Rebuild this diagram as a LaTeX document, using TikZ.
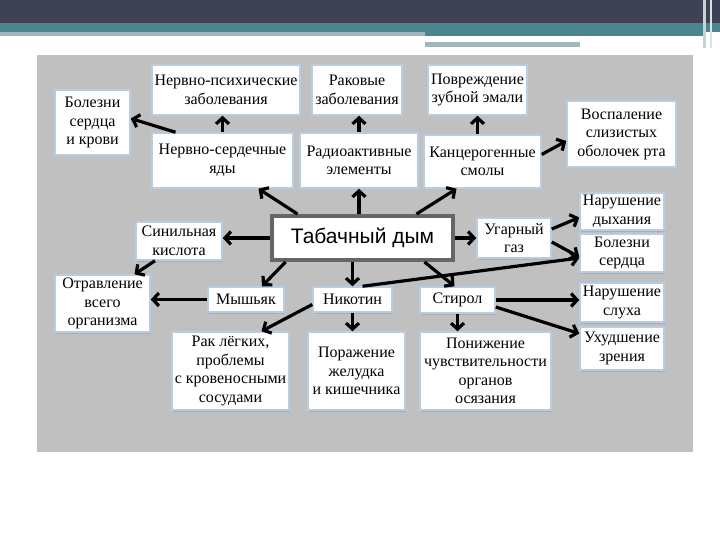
\documentclass[tikz,border=0pt]{standalone}
\usepackage{fontspec}
\setmainfont{Liberation Serif}
\newfontfamily\dymfont{Liberation Sans}
\usetikzlibrary{arrows.meta,shadows}

\definecolor{slidedark}{HTML}{3E4253}
\definecolor{slideteal}{HTML}{4A868B}
\definecolor{slidestripe}{HTML}{A3B6BE}
\definecolor{panelgray}{HTML}{C0C0C0}
\definecolor{boxedge}{HTML}{B9CDE2}

\tikzset{
  box/.style={draw=boxedge, line width=1.5pt, fill=white, align=center, inner sep=1pt,
    font=\fontsize{16}{18.5}\selectfont,
    drop shadow={shadow xshift=1pt, shadow yshift=-1.5pt, fill=gray!70, opacity=.7}},
  arr/.style={-{Straight Barb[length=6pt,width=13pt]}, line width=3.2pt},
}

\begin{document}
\begin{tikzpicture}[x=1pt, y=-1pt]
  \useasboundingbox (0,0) rectangle (720,540);
  % slide header
  \fill[slidedark] (0,0) rectangle (720,23);
  \fill[slideteal] (0,23) rectangle (720,32);
  \fill[slidestripe] (0,32) rectangle (425,36);
  \fill[slideteal] (425,32) rectangle (703,36);
  \fill[slidestripe] (425,42) rectangle (580,47);
  \fill[slidestripe!60] (703,0) rectangle (706,48);
  \fill[slidestripe!40] (710,0) rectangle (712,48);
  \fill[panelgray] (37,55) rectangle (693,452);

  % top row
  \node[box, minimum width=75pt, minimum height=65pt] (bolkrovi) at (92.5,122.5) {Болезни\\сердца\\и крови};
  \node[box, minimum width=148pt, minimum height=50pt] (nervpsy) at (226,90) {Нервно-психические\\заболевания};
  \node[box, minimum width=90pt, minimum height=50pt] (rak) at (357,90) {Раковые\\заболевания};
  \node[box, minimum width=99pt, minimum height=50pt] (zub) at (477.5,90) {Повреждение\\зубной эмали};
  \node[box, minimum width=109pt, minimum height=66pt] (vospal) at (621.5,134) {Воспаление\\слизистых\\оболочек рта};
  \node[box, minimum width=141pt, minimum height=55pt] (nervser) at (222.5,160.5) {Нервно-сердечные\\яды};
  \node[box, minimum width=118pt, minimum height=55pt] (radio) at (359,160.5) {Радиоактивные\\элементы};
  \node[box, minimum width=117pt, minimum height=53pt] (kanc) at (482.5,161.5) {Канцерогенные\\смолы};

  % middle row
  \node[box, minimum width=86pt, minimum height=38pt] (sinil) at (179,241) {Синильная\\кислота};
  \node[draw=gray!80!black, line width=4pt, fill=white, minimum width=181pt, minimum height=44pt,
    font=\dymfont\fontsize{21}{24}\selectfont] (tabak) at (362.5,238) {Табачный дым};
  \node[box, minimum width=74pt, minimum height=40pt] (ugar) at (514,238) {Угарный\\газ};
  \node[box, minimum width=84pt, minimum height=37pt] (dyhan) at (622,211.5) {Нарушение\\дыхания};
  \node[box, minimum width=84pt, minimum height=38pt] (bolserd) at (622,253) {Болезни\\сердца};

  % lower rows
  \node[box, minimum width=95pt, minimum height=57pt] (otrav) at (102.5,303.5) {Отравление\\всего\\организма};
  \node[box, minimum width=76pt, minimum height=25pt] (mysh) at (246,299.5) {Мышьяк};
  \node[box, minimum width=79pt, minimum height=25pt] (nikot) at (352.5,299.5) {Никотин};
  \node[box, minimum width=75pt, minimum height=26pt] (stirol) at (457.5,300) {Стирол};
  \node[box, minimum width=84pt, minimum height=39pt] (sluh) at (622,302.5) {Нарушение\\слуха};
  \node[box, minimum width=84pt, minimum height=43pt] (zren) at (622,348.5) {Ухудшение\\зрения};
  \node[box, minimum width=117pt, minimum height=78pt] (raklegk) at (230.5,371) {Рак лёгких,\\проблемы\\с кровеносными\\сосудами};
  \node[box, minimum width=97pt, minimum height=78pt] (zhel) at (356.5,371) {Поражение\\желудка\\и кишечника};
  \node[box, minimum width=131pt, minimum height=78pt] (osyaz) at (485.5,371) {Понижение\\чувствительности\\органов\\осязания};

  % from the smoke
  \draw[arr] ([xshift=-65pt]tabak.north) -- ([xshift=36pt]nervser.south);
  \draw[arr] (radio.south |- tabak.north) -- (radio.south);
  \draw[arr] ([xshift=54pt]tabak.north) -- ([xshift=-26pt]kanc.south);
  \draw[arr] (tabak.west) -- (sinil.east |- tabak.west);
  \draw[arr] (tabak.east) -- (ugar.west);
  \draw[arr] ([xshift=-77pt]tabak.south) -- ([xshift=16pt]mysh.north);
  \draw[arr] (nikot.north |- tabak.south) -- (nikot.north);
  \draw[arr] ([xshift=62pt]tabak.south) -- ([xshift=-3pt]stirol.north);

  % effects
  \draw[arr] ([xshift=-47pt]nervser.north) -- ([yshift=4pt]bolkrovi.east);
  \draw[arr] (nervser.north) -- (nervser.north |- nervpsy.south);
  \draw[arr] (radio.north) -- (radio.north |- rak.south);
  \draw[arr] (zub.south |- kanc.north) -- (zub.south);
  \draw[arr] ([yshift=7pt]kanc.east) -- ([yshift=-7pt]vospal.west);
  \draw[arr] ([yshift=9pt]ugar.east) -- ([yshift=-6pt]dyhan.west);
  \draw[arr] ([yshift=-4pt]ugar.east) -- ([yshift=-4pt]bolserd.west);
  \draw[arr] ([xshift=10pt]nikot.north) -- ([yshift=-5pt]bolserd.west);
  \draw[arr] ([xshift=-24pt]sinil.south) -- ([xshift=32pt]otrav.north);
  \draw[arr] (mysh.west) -- (otrav.east |- mysh.west);
  \draw[arr] (stirol.east) -- (sluh.west |- stirol.east);
  \draw[arr] ([yshift=-7pt]stirol.east) -- ([yshift=15pt]zren.west);
  \draw[arr] ([yshift=-5pt]nikot.west) -- ([xshift=31pt]raklegk.north);
  \draw[arr] (nikot.south) -- (nikot.south |- zhel.north);
  \draw[arr] (stirol.south) -- (stirol.south |- osyaz.north);
\end{tikzpicture}
\end{document}
